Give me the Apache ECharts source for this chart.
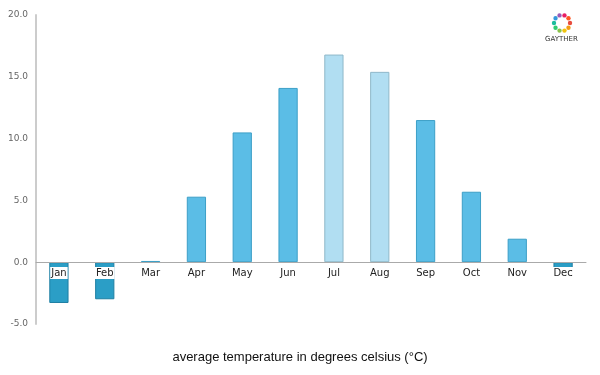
<!DOCTYPE html>
<html>
<head>
<meta charset="utf-8">
<script src="https://cdn.jsdelivr.net/npm/echarts@6/dist/echarts.min.js"></script>
<style>
  html, body { margin: 0; padding: 0; background: #fff; }
  #chart { width: 600px; height: 375px; }
</style>
</head>
<body>
<div id="chart"></div>
<script>
// 月份与平均气温
const months = ['Jan', 'Feb', 'Mar', 'Apr', 'May', 'Jun', 'Jul', 'Aug', 'Sep', 'Oct', 'Nov', 'Dec'];
const temps = [-3.3, -3.0, 0.1, 5.3, 10.5, 14.1, 16.8, 15.4, 11.5, 5.7, 1.9, -0.5];
const summerMonths = ['Jul', 'Aug'];
const logoColors = ['#e84c3d', '#f39c12', '#f1c40f', '#8bc34a', '#2ecc71', '#1abc9c', '#3498db', '#9b59b6', '#e91e63', '#ff5722'];

function barColor(name, v) {
    if (v < 0) return '#2b9ec6';
    if (summerMonths.indexOf(name) >= 0) return '#b1def2';
    return '#5bbde6';
}
function barBorder(name, v) {
    if (v < 0) return '#1f7fa3';
    if (summerMonths.indexOf(name) >= 0) return '#8fb8c9';
    return '#3c9fc7';
}

// logo 小圆环
const logoDots = logoColors.map((c, i) => {
    let a = i / logoColors.length * Math.PI * 2;
    return {
        type: 'circle',
        shape: { cx: 562 + Math.cos(a) * 8, cy: 23 + Math.sin(a) * 8, r: 2.2 },
        style: { fill: c }
    };
});

const chart = echarts.init(document.getElementById('chart'));
chart.setOption({
    backgroundColor: '#fff',
    animation: false,
    title: {
        text: 'average temperature in degrees celsius (°C)',
        left: 'center',
        top: 346,
        textStyle: {
            fontFamily: 'Liberation Sans, Arial, sans-serif',
            fontSize: 13,
            fontWeight: 'normal',
            color: '#111'
        }
    },
    grid: {
        left: 36,
        right: 14,
        top: 15,
        bottom: 51
    },
    xAxis: {
        type: 'category',
        data: months,
        axisLine: { onZero: true, lineStyle: { color: '#aaa', width: 1 } },
        axisTick: { show: false },
        axisLabel: {
            // 标签贴在0轴下方
            margin: -57,
            fontFamily: 'DejaVu Sans, sans-serif',
            fontSize: 10,
            color: '#222',
            backgroundColor: '#fff',
            padding: [1, 1]
        },
        z: 10
    },
    yAxis: {
        type: 'value',
        min: -5,
        max: 20,
        interval: 5,
        axisLine: { show: true, lineStyle: { color: '#ccc', width: 2 } },
        axisTick: { show: false },
        splitLine: { show: false },
        axisLabel: {
            margin: 8,
            fontFamily: 'DejaVu Sans, sans-serif',
            fontSize: 9,
            color: '#666',
            formatter: v => v.toFixed(1)
        }
    },
    series: [{
        type: 'bar',
        barWidth: '42%',
        data: temps.map((v, i) => ({
            value: v,
            itemStyle: {
                color: barColor(months[i], v),
                borderColor: barBorder(months[i], v),
                borderWidth: 1
            }
        }))
    }],
    graphic: logoDots.concat([{
        type: 'text',
        left: 545,
        top: 36,
        style: {
            text: 'GAYTHER',
            fontFamily: 'DejaVu Sans, sans-serif',
            fontSize: 7,
            fill: '#333'
        }
    }])
});
</script>
</body>
</html>
